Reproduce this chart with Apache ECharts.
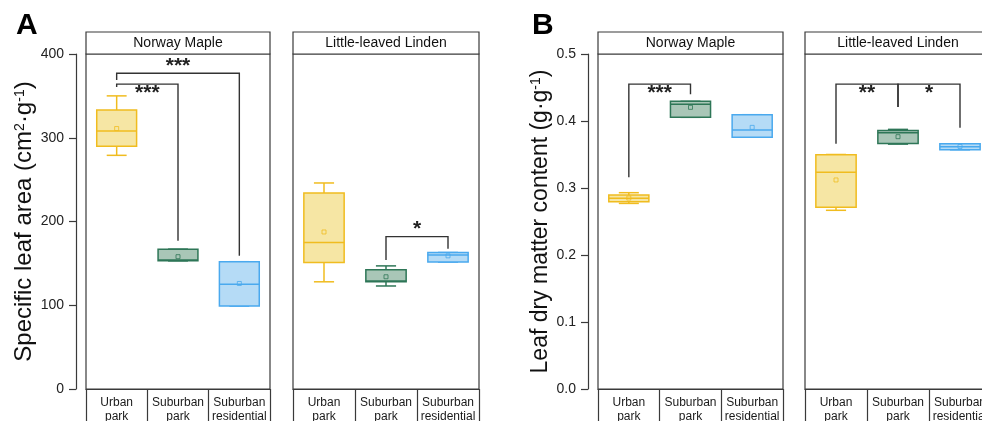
<!DOCTYPE html>
<html><head><meta charset="utf-8">
<script src="https://cdn.jsdelivr.net/npm/echarts@6/dist/echarts.min.js"></script>
<style>html,body{margin:0;padding:0;background:#fff}#c{width:982px;height:421px}</style>
</head><body><div id="c"></div>
<script>
// ---------- DATA ----------
const categories = ['Urban\npark', 'Suburban\npark', 'Suburban\nresidential'];
const facets = ['Norway Maple', 'Little-leaved Linden'];
const slaTicks = [0, 100, 200, 300, 400];
const ldmcTicks = [0.0, 0.1, 0.2, 0.3, 0.4, 0.5];
// boxes: [min, Q1, median, Q3, max]
const slaMaple = [[279, 290, 308, 333, 350], [153, 153, 154, 167, 167], [99, 99, 125, 152, 152]];
const slaMapleMean = [311, 158, 126];
const slaLinden = [[128, 151, 175, 234, 246], [123, 128, 129, 142.5, 147], [151.6, 151.6, 160, 163, 163]];
const slaLindenMean = [187.5, 134, 159];
const ldmcMaple = [[0.277, 0.2796, 0.2846, 0.2896, 0.293], [0.4055, 0.4055, 0.425, 0.4294, 0.4294], [0.3757, 0.3757, 0.3866, 0.4094, 0.4094]];
const ldmcMapleMean = [0.285, 0.4204, 0.3905];
const ldmcLinden = [[0.2667, 0.2712, 0.3234, 0.3497, 0.35], [0.3655, 0.3665, 0.3826, 0.386, 0.3875], [0.357, 0.357, 0.3617, 0.366, 0.366]];
const ldmcLindenMean = [0.312, 0.3766, 0.362];
// significance brackets: [fromCat, toCat, barValue, leftLegEnd, rightLegEnd]
const slaMapleSig = [[0, 2, 377, 369, 159], [0, 1, 364, 360.6, 177]];
const slaMapleSigLabels = ['***', '***'];
const slaLindenSig = [[1, 2, 182, 154, 167.5]];
const slaLindenSigLabels = ['*'];
const ldmcMapleSig = [[0, 1, 0.455, 0.316, 0.44]];
const ldmcMapleSigLabels = ['***'];
const ldmcLindenSig = [[0, 1, 0.455, 0.366, 0.421], [1, 2, 0.455, 0.421, 0.39]];
const ldmcLindenSigLabels = ['**', '*'];

// ---------- STYLE / LAYOUT ----------
const strokes = ['#F0BC1F', '#2E7657', '#4AA9EE'];
const fills = ['#F6E6A4', '#A9C6B7', '#B5DBF6'];
const FONT = 'Liberation Sans, Arial, sans-serif';
const TOP = 54, H = 335, HEAD = 22;
const panels = [
  {left: 86, width: 184, facet: 0, metric: 'sla', showY: true},
  {left: 293, width: 186, facet: 1, metric: 'sla', showY: false},
  {left: 598, width: 185, facet: 0, metric: 'ldmc', showY: true},
  {left: 805, width: 186, facet: 1, metric: 'ldmc', showY: false}
];
const boxSets = [
  [slaMaple, slaMapleMean, slaMapleSig, slaMapleSigLabels, ['above', 'below']],
  [slaLinden, slaLindenMean, slaLindenSig, slaLindenSigLabels, ['above']],
  [ldmcMaple, ldmcMapleMean, ldmcMapleSig, ldmcMapleSigLabels, ['below']],
  [ldmcLinden, ldmcLindenMean, ldmcLindenSig, ldmcLindenSigLabels, ['below', 'below']]
];

const grid = [], xAxis = [], yAxis = [], series = [], graphic = [];
panels.forEach((p, gi) => {
  grid.push({left: p.left, top: TOP, width: p.width, height: H, show: true,
    borderColor: '#3a3a3a', borderWidth: 1.2, backgroundColor: 'transparent',
    containLabel: false, outerBoundsMode: 'none'});
  xAxis.push({type: 'category', gridIndex: gi, data: categories, boundaryGap: true,
    axisLine: {show: true, lineStyle: {color: '#3a3a3a', width: 1.2}},
    axisTick: {show: true, length: 40, interval: 0, lineStyle: {color: '#3a3a3a', width: 1.2}},
    axisLabel: {interval: 0, margin: 7, fontSize: 12, lineHeight: 13.5, color: '#1a1a1a', fontFamily: FONT},
    splitLine: {show: false}});
  const sla = p.metric === 'sla';
  const ticks = sla ? slaTicks : ldmcTicks;
  yAxis.push({type: 'value', gridIndex: gi, min: ticks[0], max: ticks[ticks.length - 1],
    interval: ticks[1] - ticks[0], show: p.showY, offset: 10,
    axisLine: {show: true, lineStyle: {color: '#3a3a3a', width: 1.2}},
    axisTick: {show: true, length: 7, lineStyle: {color: '#3a3a3a', width: 1.2}},
    axisLabel: {margin: 12, fontSize: 14, color: '#222', fontFamily: FONT,
      formatter: v => sla ? String(v) : v.toFixed(1)},
    splitLine: {show: false},
    name: sla ? 'Specific leaf area (cm{sup|2}·g{sup|-1})' : 'Leaf dry matter content (g·g{sup|-1})',
    nameLocation: 'middle', nameGap: sla ? 38 : 35, nameRotate: 90,
    nameTextStyle: {fontSize: sla ? 24 : 23, color: '#111', fontFamily: FONT,
      rich: {sup: {fontSize: 14, verticalAlign: 'top', color: '#111', fontFamily: FONT}}}
  });
  // header strip
  graphic.push({type: 'rect', shape: {x: p.left, y: TOP - HEAD, width: p.width, height: HEAD},
    style: {fill: '#fff', stroke: '#3a3a3a', lineWidth: 1.2}, z: 10});
  graphic.push({type: 'text', x: p.left + p.width / 2, y: TOP - HEAD / 2,
    style: {text: facets[p.facet], fontSize: 14, fontFamily: FONT, fill: '#111', align: 'center', verticalAlign: 'middle'}, z: 11});

  const [boxes, means, sig, sigLabels, sigSides] = boxSets[gi];
  series.push({
    type: 'custom', xAxisIndex: gi, yAxisIndex: gi,
    data: boxes.map((b, i) => [i, ...b, means[i]]),
    encode: {x: 0, y: [1, 2, 3, 4, 5, 6]},
    renderItem: (params, api) => {
      const i = api.value(0);
      const v = [1, 2, 3, 4, 5, 6].map(k => api.value(k));
      const cx = api.coord([i, 0])[0];
      const Y = val => api.coord([i, val])[1];
      const bw = api.size([1, 0])[0] * 0.65;
      const cw = bw * 0.5;
      const s = strokes[i], f = fills[i];
      const ls = {stroke: s, lineWidth: 1.5};
      return {type: 'group', children: [
        {type: 'line', shape: {x1: cx, y1: Y(v[4]), x2: cx, y2: Y(v[3])}, style: ls},
        {type: 'line', shape: {x1: cx, y1: Y(v[1]), x2: cx, y2: Y(v[0])}, style: ls},
        {type: 'line', shape: {x1: cx - cw / 2, y1: Y(v[4]), x2: cx + cw / 2, y2: Y(v[4])}, style: ls},
        {type: 'line', shape: {x1: cx - cw / 2, y1: Y(v[0]), x2: cx + cw / 2, y2: Y(v[0])}, style: ls},
        {type: 'rect', shape: {x: cx - bw / 2, y: Y(v[3]), width: bw, height: Y(v[1]) - Y(v[3])},
          style: {fill: f, stroke: s, lineWidth: 1.5}},
        {type: 'line', shape: {x1: cx - bw / 2, y1: Y(v[2]), x2: cx + bw / 2, y2: Y(v[2])}, style: ls},
        {type: 'rect', shape: {x: cx - 2, y: Y(v[5]) - 2, width: 4, height: 4},
          style: {fill: 'transparent', stroke: s, lineWidth: 0.8}}
      ]};
    }
  });
  series.push({
    type: 'custom', xAxisIndex: gi, yAxisIndex: gi,
    data: sig,
    encode: {x: [0, 1], y: [2, 3, 4]},
    renderItem: (params, api) => {
      const a = api.value(0), b = api.value(1);
      const top = api.value(2), le = api.value(3), re = api.value(4);
      const p1 = api.coord([a, top]), p2 = api.coord([b, top]);
      const yl = api.coord([a, le])[1], yr = api.coord([b, re])[1];
      const label = sigLabels[params.dataIndex];
      const side = sigSides[params.dataIndex];
      const ty = side === 'above' ? p1[1] - 7 : p1[1] + 9.5;
      return {type: 'group', children: [
        {type: 'polyline', shape: {points: [[p1[0], yl], [p1[0], p1[1]], [p2[0], p2[1]], [p2[0], yr]]},
          style: {stroke: '#333', lineWidth: 1.4, fill: null}},
        {type: 'text', x: (p1[0] + p2[0]) / 2, y: ty,
          style: {text: label, fontSize: 21, fontWeight: 'bold', fontFamily: FONT, fill: '#222',
            align: 'center', verticalAlign: 'middle'}}
      ]};
    }
  });
});
graphic.push({type: 'text', x: 16, y: 11, style: {text: 'A', fontSize: 30, fontWeight: 'bold', fontFamily: FONT, fill: '#000'}});
graphic.push({type: 'text', x: 532, y: 11, style: {text: 'B', fontSize: 30, fontWeight: 'bold', fontFamily: FONT, fill: '#000'}});

const chart = echarts.init(document.getElementById('c'), null, {renderer: 'canvas'});
chart.setOption({animation: false, backgroundColor: '#fff', grid, xAxis, yAxis, series, graphic, tooltip: {show: false}});
</script></body></html>
